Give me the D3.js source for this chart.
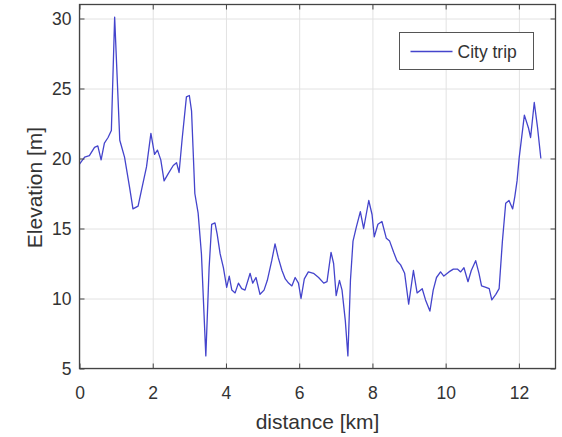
<!DOCTYPE html>
<html>
<head>
<meta charset="utf-8">
<script src="https://cdn.jsdelivr.net/npm/d3@7"></script>
<style>
  body { margin: 0; background: #fff; }
  .chart text { font-family: "Liberation Sans", Arial, sans-serif; fill: #333; }
  .grid line { stroke: #e2e2e2; }
  .grid path { display: none; }
  .axis path { display: none; }
  .axis line { stroke: #444; }
</style>
</head>
<body>
<div class="chart"></div>
<script>
// Elevation profile
var distance = [0, 0.14, 0.27, 0.41, 0.5, 0.59, 0.68, 0.78, 0.87, 0.96,
  1.1, 1.23, 1.37, 1.46, 1.6, 1.69, 1.83, 1.95, 2.05, 2.13,
  2.22, 2.31, 2.42, 2.56, 2.65, 2.72, 2.8, 2.92, 3.0, 3.06,
  3.1, 3.15, 3.24, 3.33, 3.45, 3.54, 3.61, 3.7, 3.76, 3.84,
  3.93, 4.02, 4.09, 4.16, 4.25, 4.34, 4.43, 4.52, 4.66, 4.73,
  4.82, 4.93, 5.04, 5.13, 5.25, 5.34, 5.43, 5.53, 5.62, 5.71,
  5.8, 5.89, 5.98, 6.05, 6.14, 6.25, 6.39, 6.53, 6.67, 6.76,
  6.87, 6.94, 7.01, 7.1, 7.17, 7.26, 7.33, 7.4, 7.47, 7.56,
  7.67, 7.76, 7.9, 7.99, 8.05, 8.15, 8.26, 8.38, 8.47, 8.58,
  8.67, 8.77, 8.88, 8.99, 9.12, 9.22, 9.36, 9.45, 9.57, 9.66,
  9.75, 9.86, 9.95, 10.09, 10.21, 10.32, 10.41, 10.5, 10.61, 10.7,
  10.82, 10.91, 10.98, 11.1, 11.19, 11.26, 11.37, 11.46, 11.55, 11.64,
  11.73, 11.83, 11.89, 11.95, 12.01, 12.15, 12.26, 12.32, 12.42, 12.51,
  12.6];
var elevation = [19.6, 20.1, 20.2, 20.8, 20.9, 19.9, 21.1, 21.5, 22.0, 30.1,
  21.3, 20.1, 17.9, 16.4, 16.6, 17.7, 19.4, 21.8, 20.3, 20.6,
  19.9, 18.4, 18.9, 19.5, 19.7, 19.0, 21.3, 24.4, 24.5, 23.4,
  20.8, 17.5, 16.1, 13.2, 5.9, 12.2, 15.3, 15.4, 14.6, 13.2,
  12.2, 10.8, 11.6, 10.6, 10.4, 11.1, 10.7, 10.6, 11.8, 11.1,
  11.5, 10.3, 10.6, 11.3, 12.7, 13.9, 12.9, 12.0, 11.4, 11.1,
  10.9, 11.5, 11.1, 10.0, 11.4, 11.9, 11.8, 11.5, 11.1, 11.2,
  13.3, 12.5, 10.2, 11.3, 10.6, 8.4, 5.9, 11.3, 14.1, 15.1,
  16.2, 15.0, 17.0, 16.0, 14.4, 15.3, 15.5, 14.3, 14.1, 13.3,
  12.7, 12.4, 11.8, 9.6, 12.0, 10.4, 10.7, 9.9, 9.1, 10.6,
  11.5, 11.9, 11.6, 11.9, 12.1, 12.1, 11.9, 12.2, 11.2, 12.0,
  12.7, 11.8, 10.9, 10.8, 10.7, 9.9, 10.3, 10.7, 14.1, 16.8,
  17.0, 16.4, 17.3, 18.4, 20.1, 23.1, 22.2, 21.5, 24.0, 22.2,
  20.0];
var xTicks = [0, 2, 4, 6, 8, 10, 12];
var yTicks = [5, 10, 15, 20, 25, 30];
var seriesName = "City trip";

// SVG area and margins
var svgWidth = 562;
var svgHeight = 437;
var margin = { top: 4.5, right: 6.5, bottom: 68.5, left: 79.5 };
var width = svgWidth - margin.left - margin.right;
var height = svgHeight - margin.top - margin.bottom;

var svg = d3.select(".chart")
  .append("svg")
  .attr("width", svgWidth)
  .attr("height", svgHeight);

var chart = svg.append("g")
  .attr("transform", `translate(${margin.left}, ${margin.top})`);

var xScale = d3.scaleLinear().domain([0, 13]).range([0, width]);
var yScale = d3.scaleLinear().domain([5, 31]).range([height, 0]);

// grid lines
chart.append("g")
  .attr("class", "grid")
  .attr("transform", `translate(0, ${height})`)
  .call(d3.axisBottom(xScale).tickValues(xTicks).tickSize(-height).tickFormat(""));
chart.append("g")
  .attr("class", "grid")
  .call(d3.axisLeft(yScale).tickValues(yTicks).tickSize(-width).tickFormat(""));

// the profile line
var data = distance.map(function(d, i) { return { x: d, y: elevation[i] }; });
var line = d3.line()
  .x(function(d) { return xScale(d.x); })
  .y(function(d) { return yScale(d.y); });

chart.append("path")
  .datum(data)
  .attr("fill", "none")
  .attr("stroke", "#4444cc")
  .attr("stroke-width", 1.3)
  .attr("stroke-linejoin", "round")
  .attr("d", line);

// axes with inward ticks on all four sides
var bottom = chart.append("g")
  .attr("class", "axis")
  .attr("transform", `translate(0, ${height})`)
  .call(d3.axisBottom(xScale).tickValues(xTicks).tickSize(-5).tickPadding(18));
var left = chart.append("g")
  .attr("class", "axis")
  .call(d3.axisLeft(yScale).tickValues(yTicks).tickSize(-5).tickPadding(8));
chart.append("g")
  .attr("class", "axis")
  .call(d3.axisTop(xScale).tickValues(xTicks).tickSize(-5).tickFormat(""));
chart.append("g")
  .attr("class", "axis")
  .attr("transform", `translate(${width}, 0)`)
  .call(d3.axisRight(yScale).tickValues(yTicks).tickSize(-5).tickFormat(""));

bottom.selectAll("text").style("font-size", "17.5px");
left.selectAll("text").style("font-size", "17.5px");

// box around the plot
chart.append("rect")
  .attr("width", width)
  .attr("height", height)
  .attr("fill", "none")
  .attr("stroke", "#444")
  .attr("stroke-width", 1.3);

// axis labels
chart.append("text")
  .attr("x", width / 2)
  .attr("y", height + 60)
  .attr("text-anchor", "middle")
  .style("font-size", "21px")
  .text("distance [km]");

chart.append("text")
  .attr("transform", "rotate(-90)")
  .attr("x", -183)
  .attr("y", -38)
  .attr("text-anchor", "middle")
  .style("font-size", "21px")
  .text("Elevation [m]");

// legend
var legend = chart.append("g")
  .attr("transform", `translate(${width - 156}, 28)`);
legend.append("rect")
  .attr("width", 134)
  .attr("height", 37)
  .attr("fill", "#fff")
  .attr("stroke", "#555");
legend.append("line")
  .attr("x1", 11).attr("x2", 53)
  .attr("y1", 19).attr("y2", 19)
  .attr("stroke", "#4444cc")
  .attr("stroke-width", 1.3);
legend.append("text")
  .attr("x", 58)
  .attr("y", 25)
  .style("font-size", "17.5px")
  .text(seriesName);
</script>
</body>
</html>
